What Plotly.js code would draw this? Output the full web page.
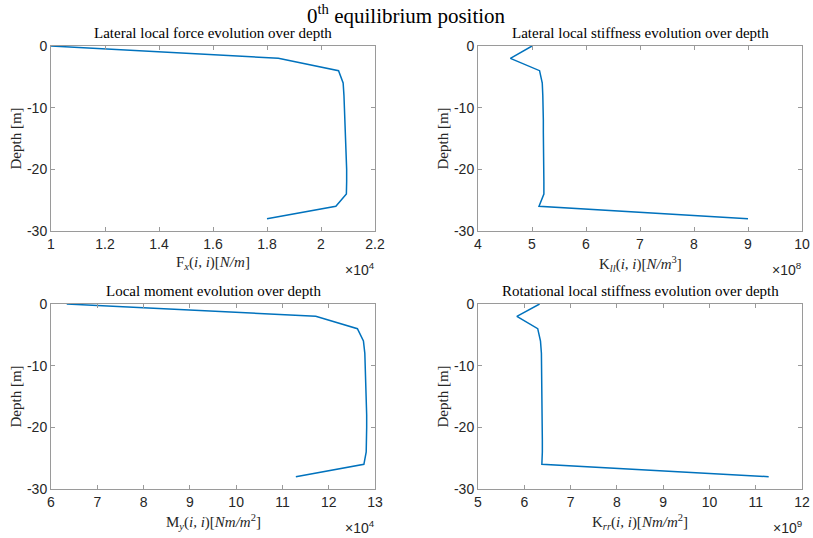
<!DOCTYPE html>
<html><head><meta charset="utf-8">
<script src="https://cdn.plot.ly/plotly-3.0.1.min.js"></script>
<style>html,body{margin:0;padding:0;background:#fff}#c{width:813px;height:538px}</style>
</head><body><div id="c"></div>
<script>
// Depth [m]
const depth = [0,-2,-4,-6,-8,-10,-12,-14,-16,-18,-20,-22,-24,-26,-28];
// Lateral local force Fx (×10^4 N/m)
const forceFx = [1.00,1.842,2.065,2.082,2.085,2.087,2.089,2.091,2.093,2.094,2.095,2.095,2.094,2.055,1.80];
// Lateral local stiffness Kll (×10^8 N/m^3)
const stiffKll = [5.00,4.60,5.14,5.19,5.20,5.21,5.21,5.21,5.215,5.22,5.22,5.22,5.22,5.13,9.00];
// Local moment My (×10^4 Nm/m^2)
const momentMy = [6.34,11.72,12.62,12.75,12.78,12.79,12.80,12.81,12.81,12.82,12.82,12.82,12.81,12.76,11.29];
// Rotational local stiffness Krr (×10^9 Nm/m^2)
const stiffKrr = [6.33,5.84,6.29,6.35,6.37,6.375,6.38,6.38,6.385,6.39,6.39,6.39,6.39,6.38,11.28];

const yTicks = [0,-10,-20,-30];
const yTickText = ['0','-10','-20','-30'];
const xTicks1 = [1,1.2,1.4,1.6,1.8,2,2.2];
const xTicks2 = [4,5,6,7,8,9,10];
const xTicks3 = [6,7,8,9,10,11,12,13];
const xTicks4 = [5,6,7,8,9,10,11,12];

const titleMain = '0<sup>th</sup> equilibrium position';
const subTitles = ['Lateral local force evolution over depth','Lateral local stiffness evolution over depth','Local moment evolution over depth','Rotational local stiffness evolution over depth'];
const xLabels = ['F<sub><i>x</i></sub>(<i>i, i</i>)[<i>N/m</i>]','K<sub><i>ll</i></sub>(<i>i, i</i>)[<i>N/m</i><sup>3</sup>]','M<sub><i>y</i></sub>(<i>i, i</i>)[<i>Nm/m</i><sup>2</sup>]','K<sub><i>rr</i></sub>(<i>i, i</i>)[<i>Nm/m</i><sup>2</sup>]'];
const exps = ['×10<sup>4</sup>','×10<sup>8</sup>','×10<sup>4</sup>','×10<sup>9</sup>'];

const W=813,H=538;
const boxes = [ // px: left,right,top,bottom
  [51,375,46,231],[478,802,46,231],[51,375,304,489],[478,802,304,489]];
const series=[forceFx,stiffKll,momentMy,stiffKrr];
const xr=[[1,2.2],[4,10],[6,13],[5,12]];
const xt=[xTicks1,xTicks2,xTicks3,xTicks4];

const lineCol='#0072BD', axCol='#262626', frame='#9a9a9a';
const serif='Liberation Serif';
const sans='Liberation Sans';

const traces=[]; const layout={width:W,height:H,margin:{l:0,r:0,t:0,b:0},showlegend:false,
  paper_bgcolor:'#fff',plot_bgcolor:'#fff',annotations:[]};
boxes.forEach((b,i)=>{
  const n=i+1, xa='x'+(n===1?'':n), ya='y'+(n===1?'':n);
  traces.push({x:series[i],y:depth,type:'scatter',mode:'lines',xaxis:xa,yaxis:ya,
    line:{color:lineCol,width:1.5},hoverinfo:'skip'});
  const xd=[b[0]/W,b[1]/W], yd=[(H-b[3])/H,(H-b[2])/H];
  layout['xaxis'+(n===1?'':n)]={domain:xd,anchor:ya,range:xr[i],tickvals:xt[i],
    ticks:'inside',ticklen:4,tickcolor:frame,showline:true,linecolor:frame,linewidth:1,mirror:'ticks',
    showgrid:false,zeroline:false,tickfont:{family:sans,size:14,color:axCol},automargin:false,fixedrange:true};
  layout['yaxis'+(n===1?'':n)]={domain:yd,anchor:xa,range:[-30,0],tickvals:yTicks,ticktext:yTickText,
    ticks:'inside',ticklen:4,tickcolor:frame,showline:true,linecolor:frame,linewidth:1,mirror:'ticks',
    showgrid:false,zeroline:false,tickfont:{family:sans,size:14,color:axCol},automargin:false,fixedrange:true};
  const cx=(b[0]+b[1])/2/W;
  layout.annotations.push({text:subTitles[i],x:cx,y:(H-b[2]+4)/H,xref:'paper',yref:'paper',borderpad:0,
    xanchor:'center',yanchor:'bottom',showarrow:false,font:{family:serif,size:15,color:'#000'}});
  layout.annotations.push({text:xLabels[i],x:cx,y:(H-b[3]-21)/H,xref:'paper',yref:'paper',
    xanchor:'center',yanchor:'top',showarrow:false,font:{family:serif,size:15,color:axCol}});
  layout.annotations.push({text:exps[i],x:(b[1]+2)/W,y:(H-b[3]-27)/H,xref:'paper',yref:'paper',
    xanchor:'right',yanchor:'top',showarrow:false,font:{family:sans,size:14,color:axCol}});
  layout.annotations.push({text:'Depth [m]',x:(b[0]-36)/W,y:(H-(b[2]+b[3])/2)/H,xref:'paper',yref:'paper',
    xanchor:'center',yanchor:'middle',textangle:-90,showarrow:false,font:{family:serif,size:15,color:axCol}});
});
layout.annotations.push({text:titleMain,x:0.5,y:1,xref:'paper',yref:'paper',xanchor:'center',yanchor:'top',borderpad:0,
  showarrow:false,font:{family:serif,size:21,color:'#000'}});
Plotly.newPlot('c',traces,layout,{staticPlot:true,displayModeBar:false});
</script></body></html>
